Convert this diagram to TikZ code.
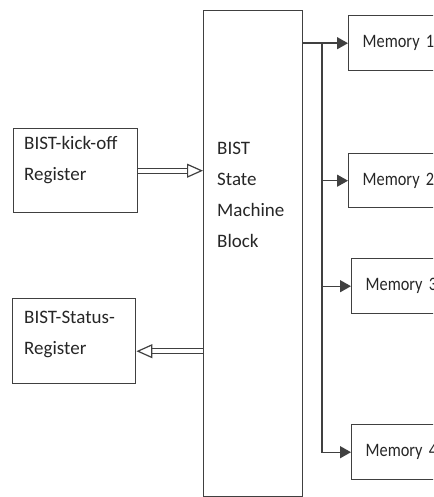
\documentclass[tikz,border=0pt]{standalone}
\usepackage{fontspec}
\setmainfont{Carlito}
\newfontfamily\memfont{Carlito}[FakeStretch=0.86]
\usetikzlibrary{arrows.meta,calc}

\tikzset{
  blk/.style={draw=black!75, line width=1.4pt, anchor=north west, inner sep=0pt},
  lbl/.style={anchor=north west, align=left, inner sep=0pt, text=black!85,
              font=\fontsize{19}{31}\selectfont},
  mem/.style={blk, minimum width=112pt, minimum height=55pt, text width=84pt,
              inner xsep=14pt, align=left, text=black!85,
              font=\memfont\fontsize{19}{22}\selectfont},
  wire/.style={draw=black!75, line width=1.4pt},
  tomem/.style={wire, -{Triangle[length=11pt,width=12pt]}},
  dblarrow/.style={draw=black!75, line width=1.2pt, double=white, double distance=4pt,
              -{Triangle[open,fill=white,length=16pt,width=14pt,line width=1.2pt]}},
}

\begin{document}
\begin{tikzpicture}[x=1pt,y=-1pt]
  \useasboundingbox (0,0) rectangle (433,497);
  \clip (0,0) rectangle (433,497);

  % registers on the left
  \node[blk, minimum width=124pt, minimum height=84pt] (kick) at (13,128) {};
  \node[lbl] (kicktxt) at (24,136) {BIST-kick-off\\Register};
  \node[blk, minimum width=123pt, minimum height=85pt] (stat) at (12,298) {};
  \node[lbl] (stattxt) at (24,311) {BIST-Status-\\Register};

  % state machine
  \node[blk, minimum width=99pt, minimum height=486pt] (sm) at (203,10) {};
  \node[lbl] (smtxt) at (217,142) {BIST\\State\\Machine\\Block};

  % memories
  \node[mem] (mem1) at (348,15) {Memory 1};
  \node[mem, minimum height=54pt] (mem2) at (348,153) {Memory 2};
  \node[mem] (mem3) at (351,258) {Memory 3};
  \node[mem] (mem4) at (351,424) {Memory 4};

  % kick-off in, status out
  \draw[dblarrow] (kick.east) -- (kick.east -| sm.west);
  \coordinate (statin) at ($(stat.east)+(0,10)$);
  \draw[dblarrow] (statin -| sm.west) -- (statin);

  % memory bus
  \coordinate (bus) at (322,0);
  \draw[tomem] (sm.east |- mem1.west) -- (mem1.west);
  \draw[tomem] (bus |- mem1.west) |- (mem4.west);
  \draw[tomem] (bus |- mem2.west) -- (mem2.west);
  \draw[tomem] (bus |- mem3.west) -- (mem3.west);
\end{tikzpicture}
\end{document}
